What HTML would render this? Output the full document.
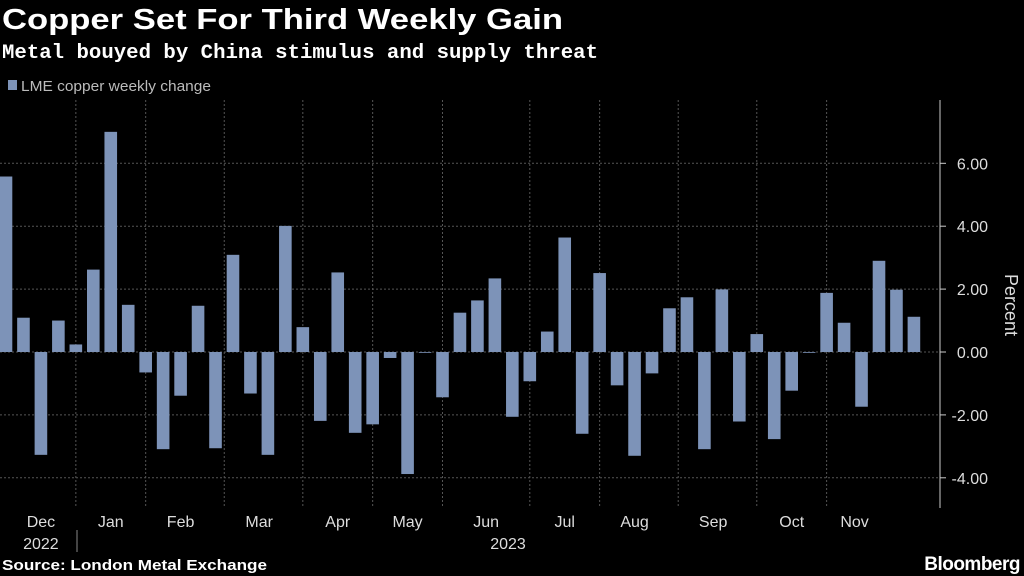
<!DOCTYPE html>
<html><head><meta charset="utf-8"><style>
body{margin:0;background:#000;width:1024px;height:576px;overflow:hidden;font-family:"Liberation Sans",sans-serif;color:#fff}
</style></head><body>
<svg width="1024" height="576" style="position:absolute;left:0;top:0">
<text x="2" y="29" font-size="29" font-weight="bold" fill="#fff" textLength="561" lengthAdjust="spacingAndGlyphs">Copper Set For Third Weekly Gain</text>
<text x="2" y="58" font-size="20" font-weight="bold" fill="#fff" font-family="Liberation Mono, monospace" textLength="596" lengthAdjust="spacingAndGlyphs">Metal bouyed by China stimulus and supply threat</text>
<rect x="8" y="80" width="9" height="10" fill="#7d93b8"/>
<text x="21" y="91" font-size="15" fill="#bbb" textLength="190" lengthAdjust="spacingAndGlyphs">LME copper weekly change</text>
<g id="grid"></g><g id="bars"></g><g id="axis"></g>
<text transform="translate(1005,305) rotate(90)" font-size="18" fill="#ddd" text-anchor="middle">Percent</text>
<text x="2" y="570" font-size="15" font-weight="bold" fill="#fff" textLength="265" lengthAdjust="spacingAndGlyphs">Source: London Metal Exchange</text>
<text x="1020" y="570" font-size="19" font-weight="bold" fill="#fff" text-anchor="end" letter-spacing="-0.5">Bloomberg</text>
</svg>
<script>
const values=[5.58,1.09,-3.27,1.0,0.24,2.62,7.0,1.5,-0.65,-3.09,-1.39,1.47,-3.06,3.09,-1.32,-3.27,4.01,0.79,-2.19,2.53,-2.57,-2.30,-0.19,-3.88,-0.02,-1.44,1.25,1.64,2.34,-2.06,-0.93,0.65,3.64,-2.6,2.51,-1.06,-3.30,-0.68,1.39,1.74,-3.09,1.99,-2.21,0.57,-2.77,-1.23,-0.02,1.88,0.93,-1.74,2.90,1.98,1.12];
const yTicks=[-4,-2,0,2,4,6];
const yTickLabels=["-4.00","-2.00","0.00","2.00","4.00","6.00"];
const months=["Dec","Jan","Feb","Mar","Apr","May","Jun","Jul","Aug","Sep","Oct","Nov"];
const monthStartIdx=[-0.5,4,8,12.5,17,21,25,30,34,38.5,43,47];
const monthCenterIdx=[2,6,10,14.5,19,23,27.5,32,36,40.5,45,48.6];
const years=["2022","2023"];
const ns="http://www.w3.org/2000/svg";
const y=v=>352-v*31.45;
const x=i=>6+i*17.46;
function mk(tag,attrs,parent){const e=document.createElementNS(ns,tag);for(const k in attrs)e.setAttribute(k,attrs[k]);document.getElementById(parent).appendChild(e);return e;}
yTicks.forEach((t,i)=>{
 const l=mk('line',{x1:0,x2:940,y1:y(t),y2:y(t),stroke:'#555','stroke-dasharray':'2,2'},'grid');
 
 
 const tk=mk('line',{x1:940,x2:946,y1:y(t),y2:y(t),stroke:'#ccc'},'axis');
 
 
 const tx=mk('text',{x:988,y:y(t)+6,'font-size':16,fill:'#ddd','text-anchor':'end'},'axis');
 tx.textContent=yTickLabels[i];
 
 
});
monthStartIdx.forEach((m,i)=>{
 if(i===0)return;
 const l=mk('line',{x1:x(m),x2:x(m),y1:100,y2:508,stroke:'#555','stroke-dasharray':'2,2'},'grid');
 
 
});
values.forEach((v,i)=>{
 const r=mk('rect',{x:x(i)-6.3,width:12.6,y:Math.min(y(v),y(0)),height:Math.max(Math.abs(y(v)-y(0)),0.8),fill:'#7d93b8'},'bars');
 
 
});
const ax=mk('line',{x1:940,x2:940,y1:100,y2:508,stroke:'#ccc'},'axis');


months.forEach((m,i)=>{
 const t=mk('text',{x:x(monthCenterIdx[i]),y:527,'font-size':16,fill:'#ddd','text-anchor':'middle'},'axis');
 t.textContent=m;
 
 
});
const sep=mk('line',{x1:77,x2:77,y1:530,y2:552,stroke:'#888'},'axis');


[[x(2),years[0]],[508,years[1]]].forEach(([px,lab])=>{
 const t=mk('text',{x:px,y:549,'font-size':16,fill:'#ddd','text-anchor':'middle'},'axis');
 t.textContent=lab;
 
 
});
</script>
</body></html>
